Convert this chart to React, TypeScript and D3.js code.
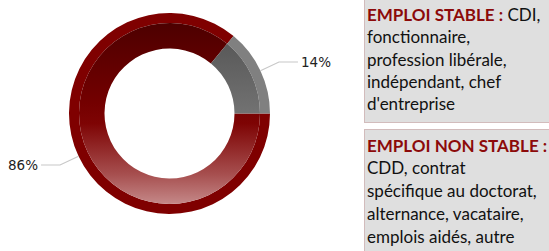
import React, { useRef, useEffect } from 'react';
import * as d3 from 'd3';

// order matters: the red slice starts at 3 o'clock and runs clockwise
const categories = ['Emploi non stable', 'Emploi stable'];
const shares = [86, 14];
const shareLabels = ['86%', '14%'];

const stableTitle = 'EMPLOI STABLE :';
const stableLines = [' CDI,', 'fonctionnaire,', 'profession libérale,', 'indépendant, chef', "d'entreprise"];
const unstableTitle = 'EMPLOI NON STABLE :';
const unstableLines = ['CDD, contrat', 'spécifique au doctorat,', 'alternance, vacataire,', 'emplois aidés, autre'];

const App = () => {
  const svgRef = useRef<SVGSVGElement>(null);

  useEffect(() => {
    const svg = d3.select(svgRef.current);
    svg.selectAll('*').remove();

    const cx = 169.5;
    const cy = 113.5;
    const outerR = 100.5;
    const bandR = 90.5;
    const innerR = 65;

    // gradients are in the donut group's space (centred on 0,0)
    const defs = svg.append('defs');
    const redGrad = defs
      .append('linearGradient')
      .attr('id', 'redGrad')
      .attr('gradientUnits', 'userSpaceOnUse')
      .attr('x1', 0)
      .attr('x2', 0)
      .attr('y1', -outerR)
      .attr('y2', outerR);
    [
      [0, '#480000'],
      [0.45, '#740000'],
      [0.55, '#7e0404'],
      [0.8, '#a64e4e'],
      [1, '#cf9c9c'],
    ].forEach(([o, c]) => redGrad.append('stop').attr('offset', o).attr('stop-color', c));

    const greyGrad = defs
      .append('linearGradient')
      .attr('id', 'greyGrad')
      .attr('gradientUnits', 'userSpaceOnUse')
      .attr('x1', 0)
      .attr('x2', 0)
      .attr('y1', -outerR)
      .attr('y2', outerR);
    [
      [0, '#4e4e4e'],
      [0.5, '#727272'],
      [1, '#a0a0a0'],
    ].forEach(([o, c]) => greyGrad.append('stop').attr('offset', o).attr('stop-color', c));

    const bandColors = ['#7f0000', '#808080'];
    const fillColors = ['url(#redGrad)', 'url(#greyGrad)'];

    const pie = d3
      .pie<number>()
      .sort(null)
      .startAngle(Math.PI / 2)
      .endAngle(Math.PI / 2 + 2 * Math.PI);
    const arcs = pie(shares);

    const outerArc = d3.arc<d3.PieArcDatum<number>>().innerRadius(bandR).outerRadius(outerR);
    const innerArc = d3.arc<d3.PieArcDatum<number>>().innerRadius(innerR).outerRadius(bandR);

    const g = svg.append('g').attr('transform', `translate(${cx},${cy})`);

    g.selectAll('path.band')
      .data(arcs)
      .enter()
      .append('path')
      .attr('class', 'band')
      .attr('d', outerArc)
      .attr('fill', (d, i) => bandColors[i]);

    g.selectAll('path.fill')
      .data(arcs)
      .enter()
      .append('path')
      .attr('class', 'fill')
      .attr('d', innerArc)
      .attr('fill', (d, i) => fillColors[i]);

    // leader lines + labels
    const elbowR = 121;
    arcs.forEach((d, i) => {
      const mid = (d.startAngle + d.endAngle) / 2;
      const sx = Math.sin(mid);
      const sy = -Math.cos(mid);
      const side = sx >= 0 ? 1 : -1;
      const p0 = [sx * outerR, sy * outerR];
      const p1 = [sx * elbowR, sy * elbowR];
      const p2 = [p1[0] + side * 19, p1[1]];
      g.append('polyline')
        .attr('points', [p0, p1, p2].map((p) => p.join(',')).join(' '))
        .attr('fill', 'none')
        .attr('stroke', '#c8c8c8')
        .attr('stroke-width', 1.2);
      g.append('text')
        .attr('x', p2[0] + side * 3)
        .attr('y', p2[1])
        .attr('dy', '0.36em')
        .attr('text-anchor', side > 0 ? 'start' : 'end')
        .attr('font-family', 'DejaVu Sans, sans-serif')
        .attr('font-size', 13.5)
        .attr('fill', '#222')
        .text(shareLabels[i]);
    });

    // legend boxes
    const boxX = 364.5;
    const boxes = [
      { y: -1, h: 123.5, title: stableTitle, lines: stableLines, inline: true, base: 21, step: 22.3 },
      { y: 129.5, h: 130, title: unstableTitle, lines: unstableLines, inline: false, base: 151.5, step: 22.9 },
    ];
    boxes.forEach((b) => {
      svg
        .append('rect')
        .attr('x', boxX)
        .attr('y', b.y)
        .attr('width', 200)
        .attr('height', b.h)
        .attr('fill', '#dfdfdf')
        .attr('stroke', '#d2bcbc')
        .attr('stroke-width', 1);
      const t = svg
        .append('text')
        .attr('font-family', 'Lato, sans-serif')
        .attr('font-size', 17)
        .attr('fill', '#111');
      const first = t.append('tspan').attr('x', 367).attr('y', b.base);
      first.append('tspan').attr('font-weight', 'bold').attr('fill', '#8c0a0a').text(b.title);
      let rest = b.lines;
      if (b.inline) {
        first.append('tspan').text(b.lines[0]);
        rest = b.lines.slice(1);
      }
      rest.forEach((line, k) => {
        t.append('tspan')
          .attr('x', 367)
          .attr('y', b.base + b.step * (k + 1))
          .text(line);
      });
    });
  }, []);

  return (
    <svg
      ref={svgRef}
      width={549}
      height={251}
      style={{ position: 'fixed', left: 0, top: 0, background: '#fff' }}
      aria-label={categories.join(' / ')}
    />
  );
};

export default App;
